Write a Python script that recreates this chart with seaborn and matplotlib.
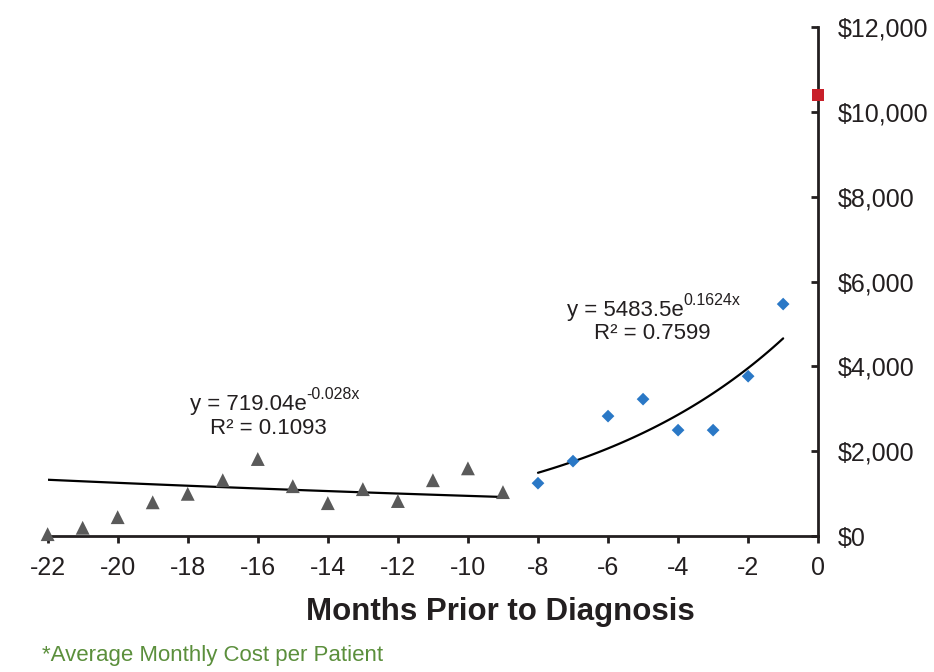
import matplotlib
matplotlib.use("Agg")
import matplotlib.pyplot as plt
import numpy as np
import pandas as pd
import seaborn as sns

# Data (average monthly cost per patient)
months_early = [-22, -21, -20, -19, -18, -17, -16, -15, -14, -13, -12, -11, -10, -9]
cost_early = [50, 200, 450, 800, 1000, 1320, 1820, 1180, 780, 1110, 830, 1320, 1600, 1040]

months_late = [-8, -7, -6, -5, -4, -3, -2, -1]
cost_late = [1250, 1770, 2830, 3230, 2500, 2500, 3770, 5470]

months_dx = [0]
cost_dx = [10400]

# Exponential trend lines as labelled on the chart
fit_early = (719.04, -0.028)
fit_late = (5483.5, 0.1624)

x_ticks = list(range(-22, 1, 2))
y_ticks = list(range(0, 12001, 2000))

sns.set_theme(style="white")
plt.rcParams["font.family"] = ["Liberation Sans", "DejaVu Sans"]

early_df = pd.DataFrame({"month": months_early, "cost": cost_early})
late_df = pd.DataFrame({"month": months_late, "cost": cost_late})
dx_df = pd.DataFrame({"month": months_dx, "cost": cost_dx})

xe = np.linspace(months_early[0], months_early[-1], 50)
trend_early = pd.DataFrame({"month": xe, "cost": fit_early[0] * np.exp(fit_early[1] * xe)})
xl = np.linspace(months_late[0], months_late[-1], 50)
trend_late = pd.DataFrame({"month": xl, "cost": fit_late[0] * np.exp(fit_late[1] * xl)})

fig = plt.figure(figsize=(9.34, 6.72), dpi=100)
ax = fig.add_axes([0.051, 0.202, 0.825, 0.758])

sns.lineplot(data=trend_early, x="month", y="cost", color="black", linewidth=1.6, ax=ax)
sns.lineplot(data=trend_late, x="month", y="cost", color="black", linewidth=1.6, ax=ax)

sns.scatterplot(data=early_df, x="month", y="cost", marker="^", s=100, color="#5a5a5a",
                edgecolor="none", ax=ax, clip_on=False, zorder=3)
sns.scatterplot(data=late_df, x="month", y="cost", marker="D", s=42, color="#2a78c6",
                edgecolor="none", ax=ax, clip_on=False, zorder=3)
sns.scatterplot(data=dx_df, x="month", y="cost", marker="s", s=75, color="#c8202a",
                edgecolor="none", ax=ax, clip_on=False, zorder=4)

ax.set_xlim(-22, 0)
ax.set_ylim(0, 12000)
ax.set_xticks(x_ticks)
ax.set_xticklabels([str(t) for t in x_ticks])
ax.set_yticks(y_ticks)
ax.set_yticklabels([f"${t:,}" for t in y_ticks])

ax.yaxis.tick_right()
ax.spines["left"].set_visible(False)
ax.spines["top"].set_visible(False)
for side in ["right", "bottom"]:
    ax.spines[side].set_color("#231f20")
    ax.spines[side].set_linewidth(2)

ax.tick_params(axis="x", direction="out", length=5, width=2, color="#231f20",
               labelsize=18, labelcolor="#231f20", pad=9, bottom=True)
ax.tick_params(axis="y", direction="in", length=5, width=2, color="#231f20",
               labelsize=18, labelcolor="#231f20", pad=14, right=True)

ax.set_xlabel("Months Prior to Diagnosis", fontsize=22.5, fontweight="bold",
              color="#231f20")
ax.xaxis.set_label_coords(0.588, -0.12)
ax.set_ylabel("")
ax.grid(False)


def equation(x, y, base, sup):
    # base text with an Excel-style superscript exponent right after it
    t = ax.text(x, y, base, fontsize=16, ha="left", va="center", color="#231f20")
    ax.annotate(sup, xy=(1.0, 0.6), xycoords=t, fontsize=11.5, ha="left", va="bottom",
                color="#231f20")


equation(-17.94, 3112, "y = 719.04e", "-0.028x")
ax.text(-15.7, 2546, "R² = 0.1093", fontsize=16, ha="center", va="center", color="#231f20")
equation(-7.17, 5328, "y = 5483.5e", "0.1624x")
ax.text(-4.73, 4786, "R² = 0.7599", fontsize=16, ha="center", va="center", color="#231f20")

fig.text(0.045, 0.024, "*Average Monthly Cost per Patient", fontsize=16, color="#5b8f3c",
         ha="left", va="center")

fig.savefig("out.png", dpi=100)
